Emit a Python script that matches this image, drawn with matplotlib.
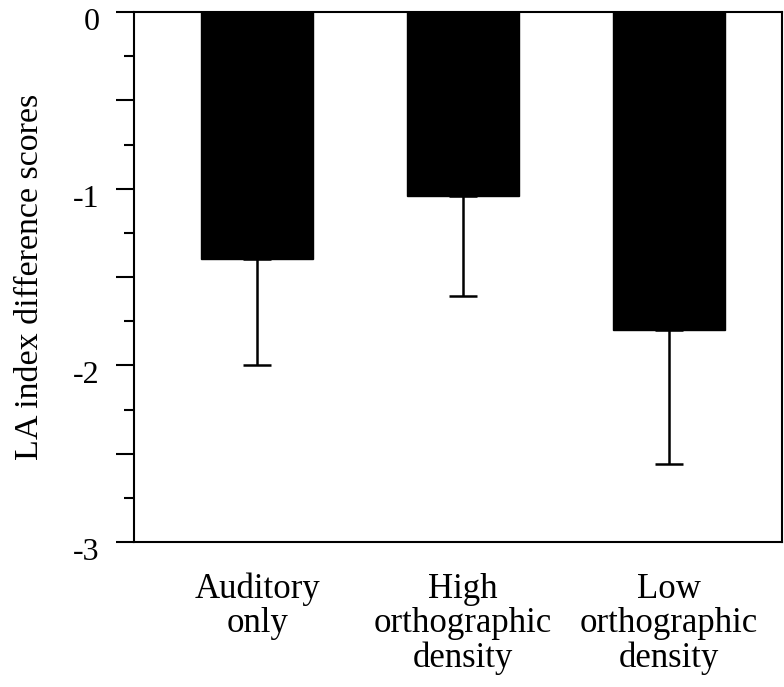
import numpy as np
import matplotlib
matplotlib.use("Agg")
import matplotlib.pyplot as plt
import matplotlib.transforms as mtransforms
from matplotlib.ticker import MultipleLocator

# data
categories = ["Auditory\nonly", "High\northographic\ndensity", "Low\northographic\ndensity"]
means = [-1.40, -1.04, -1.80]
errors = [0.60, 0.57, 0.76]

plt.rcParams['font.family'] = ['Liberation Serif', 'DejaVu Serif']

fig = plt.figure(figsize=(7.84, 6.87), dpi=100)
ax = fig.add_axes([0.171, 0.211, 0.826, 0.7715])

x = np.arange(len(categories))
ax.bar(x, means, width=0.544, color='black', edgecolor='black')
# only the lower half of the error bar is drawn
ax.errorbar(x, means, yerr=[errors, np.zeros(len(errors))], fmt='none',
            ecolor='black', elinewidth=1.8, capsize=10, capthick=1.8)

ax.set_xlim(-0.597, 2.546)
ax.set_ylim(-3, 0)
ax.yaxis.set_minor_locator(MultipleLocator(0.25))
ax.set_yticks([0, -0.5, -1, -1.5, -2, -2.5, -3])
ax.set_yticklabels(['0', '', '-1', '', '-2', '', '-3'])
ax.tick_params(axis='y', which='major', direction='out', length=13, width=1.5,
               pad=12, labelsize=23)
ax.tick_params(axis='y', which='minor', direction='out', length=7, width=1.5)

# labels sit a little below their ticks in the original
offset = mtransforms.ScaledTranslation(0, -7 / 100, fig.dpi_scale_trans)
for lab in ax.get_yticklabels():
    lab.set_transform(lab.get_transform() + offset)

ax.set_xticks(x)
ax.set_xticklabels(categories, fontsize=25, linespacing=1.05)
ax.tick_params(axis='x', length=0, pad=22)

for s in ax.spines.values():
    s.set_linewidth(1.5)

ax.set_ylabel('LA index difference scores', fontsize=24.5, labelpad=20)

fig.savefig('out.png', dpi=100)
